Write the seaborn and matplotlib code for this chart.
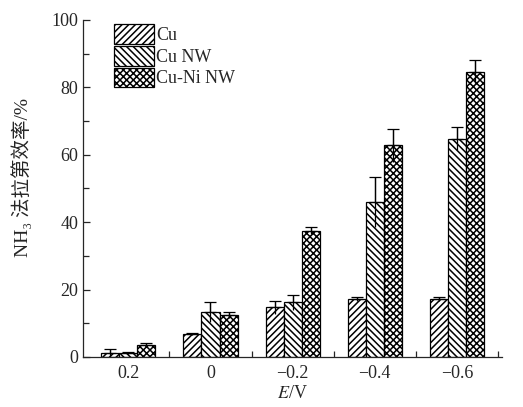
import matplotlib
matplotlib.use("Agg")
import matplotlib.pyplot as plt
import seaborn as sns
import pandas as pd
import numpy as np
from matplotlib.ticker import FixedLocator, MultipleLocator
from matplotlib.patches import Patch

categories = ["0.2", "0", "\u22120.2", "\u22120.4", "\u22120.6"]
series = ["Cu", "Cu NW", "Cu-Ni NW"]
cu = [1.1, 6.8, 14.7, 17.2, 17.2]
cu_err = [1.4, 0.2, 1.9, 0.6, 0.6]
cunw = [1.2, 13.3, 16.2, 46.1, 64.8]
cunw_err = [0.4, 3.0, 2.2, 7.4, 3.3]
cuni = [3.6, 12.4, 37.5, 62.8, 84.7]
cuni_err = [0.6, 0.8, 1.0, 4.9, 3.4]
hatches = ["/////", "\\\\\\\\\\", "xxxxx"]

sns.set_style("ticks")
plt.rcParams['font.family'] = ['Liberation Serif', 'Noto Sans CJK SC', 'DejaVu Serif']
plt.rcParams['mathtext.fontset'] = 'stix'
plt.rcParams['hatch.linewidth'] = 1.1

df = pd.DataFrame({
    "E": categories * 3,
    "series": [s for s in series for _ in categories],
    "val": cu + cunw + cuni,
})
errs = [cu_err, cunw_err, cuni_err]

fig = plt.figure(figsize=(5.23, 4.07), dpi=100)
ax = fig.add_axes([0.159, 0.123, 0.801, 0.828])
sns.barplot(data=df, x="E", y="val", hue="series", order=categories,
            hue_order=series, palette=["white"] * 3, width=0.66,
            errorbar=None, ax=ax, legend=False)

for cont, h, e in zip(ax.containers, hatches, errs):
    xs, ys = [], []
    for p in cont.patches:
        p.set_facecolor("white")
        p.set_edgecolor("black")
        p.set_linewidth(0.9)
        p.set_hatch(h)
        xs.append(p.get_x() + p.get_width() / 2)
        ys.append(p.get_height())
    ax.errorbar(xs, ys, yerr=e, fmt="none", ecolor="black", elinewidth=0.9, capsize=0, zorder=5)
    ax.errorbar(xs, ys, yerr=[np.zeros(len(e)), e], fmt="none", ecolor="black",
                elinewidth=0.9, capsize=4, capthick=0.9, zorder=5)

ax.set_ylim(0, 100)
ax.set_xlim(-0.55, 4.55)
ax.yaxis.set_major_locator(MultipleLocator(20))
ax.yaxis.set_minor_locator(MultipleLocator(10))
ax.xaxis.set_minor_locator(FixedLocator([0.5, 1.5, 2.5, 3.5, 4.5]))
ax.tick_params(axis="both", which="both", direction="in", labelsize=13, width=0.9)
ax.tick_params(axis="x", which="major", length=0, pad=6)
ax.tick_params(axis="x", which="minor", length=4)
ax.tick_params(axis="y", which="major", length=5)
ax.tick_params(axis="y", which="minor", length=4)
sns.despine(ax=ax)
for s in ["left", "bottom"]:
    ax.spines[s].set_linewidth(0.9)

ax.set_xlabel("$E$/V", fontsize=13, labelpad=2)
ax.set_ylabel("NH\u2083 法拉第效率/%", fontsize=14)
ax.yaxis.set_label_coords(-0.122, 0.531)

handles = [Patch(facecolor="white", edgecolor="black", hatch=h, linewidth=0.9) for h in hatches]
ax.legend(handles, series, loc="upper left", bbox_to_anchor=(0.043, 1.025), frameon=False,
          fontsize=13, handlelength=2.2, handleheight=1.3, handletextpad=0.15,
          labelspacing=0.1, borderaxespad=0.3)

fig.savefig("out.png", dpi=100)
